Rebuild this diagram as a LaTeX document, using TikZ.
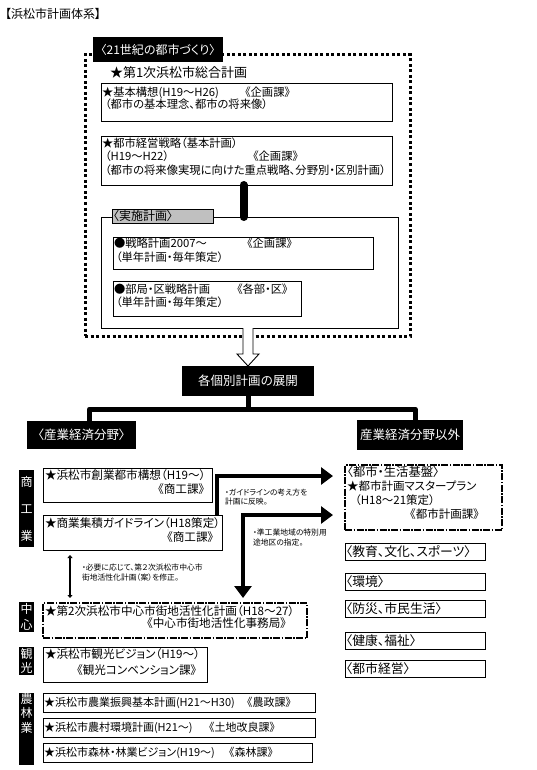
\documentclass[tikz,border=0pt]{standalone}
\usepackage{fontspec}
\setmainfont{Noto Sans CJK JP}[RawFeature=+palt]
\usetikzlibrary{positioning,arrows.meta,calc}
\definecolor{TagGray}{RGB}{192,192,192}

\begin{document}
\begin{tikzpicture}[x=1pt, y=-1pt,
  every node/.style={inner sep=0pt, outer sep=0pt, font=\fontsize{11.6}{14}\selectfont},
  plainbox/.style={draw, line width=0.9pt, anchor=north west},
  dotframe/.style={draw, line width=3pt, dash pattern=on 3pt off 2.5pt, anchor=north west},
  chainbox/.style={draw, line width=1.8pt, dash pattern=on 7pt off 1.5pt on 1.5pt off 1.5pt, anchor=north west},
  words/.style={anchor=north west, align=left},
  tagbox/.style={fill=black, text=white, anchor=north west, font=\fontsize{12.5}{14}\selectfont},
  sidebar/.style={fill=black, text=white, anchor=north west, minimum width=15pt, align=center},
  catbox/.style={plainbox, text width=138pt, inner xsep=1pt, minimum height=17pt, align=left, font=\fontsize{12.8}{14}\selectfont},
  rowbox/.style={plainbox, inner xsep=1pt, minimum height=19pt, align=left, font=\fontsize{11}{14}\selectfont},
  memo/.style={anchor=north west, align=left, font=\fontsize{7.8}{9}\selectfont},
  trunk/.style={line width=5pt, line join=round, line cap=round},
  bigarrow/.style={line width=4.5pt, -{Triangle[length=12pt,width=17pt]}},
  bigboth/.style={line width=4.5pt, {Triangle[length=12pt,width=17pt]}-{Triangle[length=12pt,width=17pt]}},
  thinboth/.style={line width=2.5pt, {Triangle[length=3pt,width=5pt]}-{Triangle[length=3pt,width=5pt]}}]
  \useasboundingbox (0,0) rectangle (537,770);

  \node[anchor=west, font=\fontsize{12}{14}\selectfont] (title) at (5,14) {【浜松市計画体系】};

  % 21st century frame
  \node[dotframe, minimum width=325pt, minimum height=281pt] (zukuri) at (85,55) {};
  \node[tagbox, minimum width=130pt, minimum height=25pt, font=\fontsize{12}{14}\selectfont] (zukuriTag) at (93,37) {〈21世紀の都市づくり〉};
  \node[anchor=west, font=\fontsize{13}{14}\selectfont] (sogo) at (110,73) {★第1次浜松市総合計画};

  \node[plainbox, minimum width=291pt, minimum height=38pt] (kihon) at (101,83) {};
  \node[words, font=\fontsize{11.3}{12.5}\selectfont] (kihonText) at (102,86.5)
    {\makebox[143pt][l]{★基本構想(H19～H26)}《企画課》\\\hspace*{3pt}（都市の基本理念、都市の将来像）};
  \node[plainbox, minimum width=291pt, minimum height=49pt] (keiei) at (101,136) {};
  \node[words, font=\fontsize{11.3}{13.5}\selectfont] (keieiText) at (102,137.5)
    {★都市経営戦略（基本計画）\\\hspace*{3pt}\makebox[148pt][l]{（H19～H22）}《企画課》\\\hspace*{3pt}（都市の将来像実現に向けた重点戦略、分野別・区別計画）};

  \node[plainbox, minimum width=297pt, minimum height=111pt] (jisshi) at (101,217) {};
  \node[plainbox, fill=TagGray, text width=99pt, inner xsep=1pt, minimum height=14pt, align=left, font=\fontsize{12}{14}\selectfont] (jisshiTag) at (112,209) {〈実施計画〉};
  \draw[line width=8pt, line cap=round] ([xshift=-3pt]keiei.south) -- ([xshift=-3pt]keiei.south |- jisshi.north);

  \node[plainbox, minimum width=260pt, minimum height=32pt] (senryaku) at (113,237) {};
  \node[words, font=\fontsize{11.3}{14}\selectfont] (senryakuText) at (114,237.5)
    {\makebox[133pt][l]{●戦略計画2007～}《企画課》\\\hspace*{2pt}（単年計画・毎年策定）};
  \node[plainbox, minimum width=188pt, minimum height=35pt] (bukyoku) at (113,281) {};
  \node[words, font=\fontsize{11.3}{13}\selectfont] (bukyokuText) at (114,283.5)
    {\makebox[123pt][l]{●部局・区戦略計画}《各部・区》\\\hspace*{2pt}（単年計画・毎年策定）};

  % development of each plan
  \node[tagbox, minimum width=132pt, minimum height=30pt] (tenkai) at (182,366) {各個別計画の展開};
  \draw[line width=0.9pt, fill=white] ($(jisshi.south -| tenkai.north)+(-5,0)$) -- ($(tenkai.north)+(-5,-12)$)
    -- ($(tenkai.north)+(-11,-12)$) -- (tenkai.north) -- ($(tenkai.north)+(11,-12)$)
    -- ($(tenkai.north)+(5,-12)$) -- ($(jisshi.south -| tenkai.north)+(5,0)$);

  \node[tagbox, minimum width=109pt, minimum height=28pt] (sangyo) at (27,421) {〈産業経済分野〉};
  \node[tagbox, minimum width=106pt, minimum height=30pt] (igai) at (357,420) {産業経済分野以外};
  \coordinate (hub) at ($(tenkai.south)+(0,13)$);
  \draw[trunk] (tenkai.south) -- (hub);
  \draw[trunk] ([xshift=8pt]sangyo.north) |- (hub) -| ([xshift=5pt]igai.north);

  % industry side
  \node[sidebar, minimum height=77pt, font=\fontsize{12}{27}\selectfont] (shokoBar) at (19,470) {商\\工\\業};
  \node[plainbox, minimum width=169pt, minimum height=34pt] (sogyo) at (43,468) {};
  \node[words] (sogyoText) at (45,469.5) {★浜松市創業都市構想（H19～）\\\hspace*{113pt}《商工課》};
  \node[plainbox, minimum width=179pt, minimum height=35pt] (shuseki) at (43,515) {};
  \node[words] (shusekiText) at (45,517.5) {★商業集積ガイドライン（H18策定）\\\hspace*{122pt}《商工課》};

  \node[sidebar, minimum height=30pt, font=\fontsize{12}{16}\selectfont] (chushinBar) at (19,602) {中\\心};
  \node[chainbox, minimum width=264pt, minimum height=35pt] (chushin) at (43,603) {};
  \node[words, font=\fontsize{11.6}{12.5}\selectfont] (chushinText) at (45,605.5)
    {★第2次浜松市中心市街地活性化計画（H18～27）\\\hspace*{102pt}《中心市街地活性化事務局》};

  \node[sidebar, minimum height=28pt, font=\fontsize{12}{14}\selectfont] (kankoBar) at (19,647) {観\\光};
  \node[plainbox, minimum width=164pt, minimum height=35pt] (kanko) at (43,647) {};
  \node[words, font=\fontsize{11.6}{16}\selectfont] (kankoText) at (45,648.5) {★浜松市観光ビジョン（H19～）\\\hspace*{32pt}《観光コンベンション課》};

  \node[sidebar, minimum height=72pt] (norinBar) at (19,693) {};
  \node[anchor=north, align=center, text=white, font=\fontsize{12}{14.5}\selectfont] (norinText) at (norinBar.north) {農\\林\\業};
  \node[rowbox, text width=270pt] (nogyo) at (43,693) {\makebox[203pt][l]{★浜松市農業振興基本計画(H21～H30)}《農政課》};
  \node[rowbox, text width=270pt] (noson) at (43,718) {\makebox[165pt][l]{★浜松市農村環境計画(H21～)}《土地改良課》};
  \node[rowbox, text width=267pt] (shinrin) at (43,743) {\makebox[185pt][l]{★浜松市森林・林業ビジョン(H19～)}《森林課》};

  % other fields
  \node[chainbox, minimum width=157pt, minimum height=65pt] (toshi) at (345,465) {};
  \node[words, font=\fontsize{11.5}{13.7}\selectfont] (toshiText) at (347,466.5)
    {{\fontsize{12.3}{13.7}\selectfont〈都市・生活基盤〉}\\★都市計画マスタープラン\\\hspace*{8pt}（H18～21策定）\\\hspace*{63pt}《都市計画課》};
  \node[catbox] (kyoiku) at (345,543) {〈教育、文化、スポーツ〉};
  \node[catbox] (kankyo) at (345,573) {〈環境〉};
  \node[catbox] (bosai) at (345,600) {〈防災、市民生活〉};
  \node[catbox] (kenko) at (345,632) {〈健康、福祉〉};
  \node[catbox] (toshikeiei) at (345,660) {〈都市経営〉};

  % links between plans
  \draw[bigarrow] ([xshift=-5pt]shuseki.north east) |- ($(toshi.north west)+(-12,11)$);
  \draw[bigboth] ($(toshi.north west)+(-12,50)$) -| ($(chushin.north east)+(-64,-5)$);
  \draw[thinboth] ($(shuseki.south west)+(27,5)$) -- ($(chushin.north west)+(27,-5)$);
  \node[memo] (guideMemo) at (225,489) {・ガイドラインの考え方を\\計画に反映。};
  \node[memo, font=\fontsize{7.8}{10}\selectfont] (junkoMemo) at (253,529) {・準工業地域の特別用\\途地区の指定。};
  \node[memo, font=\fontsize{7.8}{10}\selectfont] (hitsuyoMemo) at (82,564) {・必要に応じて、第２次浜松市中心市\\街地活性化計画（案）を修正。};
\end{tikzpicture}
\end{document}
